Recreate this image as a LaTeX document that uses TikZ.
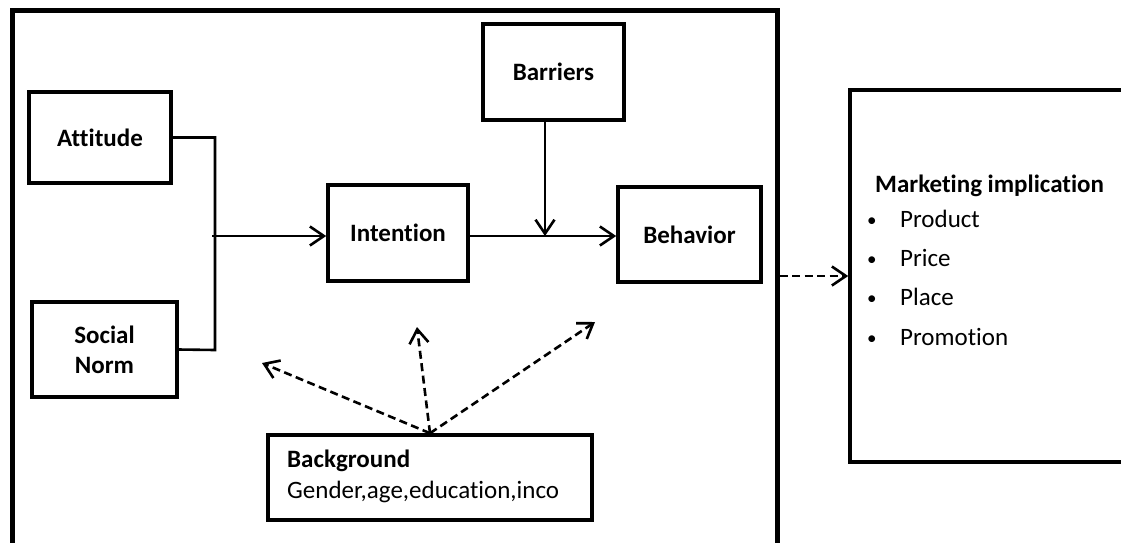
\documentclass[tikz,border=0pt]{standalone}
\usepackage{fontspec}
\setmainfont{Carlito}[Ligatures=NoCommon]
\usetikzlibrary{arrows.meta}
\begin{document}
\begin{tikzpicture}[x=1pt,y=-1pt,
  box/.style={draw, line width=3.6pt, inner sep=0pt, align=center,
    font=\bfseries\fontsize{25}{30}\selectfont},
  frame/.style={draw, line width=5pt, inner sep=0pt},
  conn/.style={line width=2.6pt},
  arr/.style={conn, -{Straight Barb[length=14pt,width=19pt,line width=2.6pt]}},
  darr/.style={arr, dash pattern=on 8pt off 4.5pt},
  txt/.style={inner sep=0pt, anchor=base west, font=\fontsize{25}{30}\selectfont},
  btxt/.style={txt, font=\bfseries\fontsize{25}{30}\selectfont},
  bul/.style={txt, font=\fontsize{19}{22}\selectfont}]
\useasboundingbox (0,0) rectangle (1121,542);
\clip (0,0) rectangle (1121,542);
% frames
\node[frame, minimum width=765pt, minimum height=560pt] (outer) at (394.5,290) {};
\node[draw, line width=3.6pt, inner sep=0pt, minimum width=350pt, minimum height=372pt] (mkt) at (1025,276) {};
% boxes
\node[box, minimum width=142pt, minimum height=91pt] (att) at (100,137.5) {Attitude};
\node[box, minimum width=145pt, minimum height=95pt] (sn) at (104.5,349.5) {Social\\Norm};
\node[box, minimum width=140pt, minimum height=96pt] (int) at (398,233) {Intention};
\node[box, minimum width=141pt, minimum height=96pt] (bar) at (553.5,72) {Barriers};
\node[box, minimum width=143pt, minimum height=95pt] (beh) at (689.5,234.5) {Behavior};
\node[box, minimum width=324pt, minimum height=85pt] (bg) at (430,477.5) {};
\node[btxt] (bgt) at (287,467) {Background};
\node[txt] (bgs) at (287,498) {Gender,age,education,inco};
% marketing text
\node[btxt] (mt) at (875,192) {Marketing implication};
\foreach \t/\y [count=\i] in {Product/227,Price/266,Place/305,Promotion/345}{
  \node[bul] (b\i) at (867,\y-1) {\textbullet};
  \node[txt] (p\i) at (900,\y) {\t};
}
% connectors
\coordinate (jv) at (215,350);
\draw[conn] (att.east) -| (jv) -- (sn.east);
\coordinate (a0) at (212,236);
\draw[arr] (a0) -- (a0 -| int.west);
\coordinate (jb) at (545,236);
\draw[arr] (int.east |- jb) -- (beh.west |- jb);
\draw[arr] (bar.south -| jb) -- (jb);
\coordinate (t1) at (262,363);
\coordinate (t2) at (417,327);
\coordinate (t3) at (595,322);
\draw[darr] (bg.north) -- (t1);
\draw[darr] (bg.north) -- (t2);
\draw[darr] (bg.north) -- (t3);
\draw[darr] (outer.east |- mkt.west) -- (mkt.west);
\end{tikzpicture}
\end{document}
